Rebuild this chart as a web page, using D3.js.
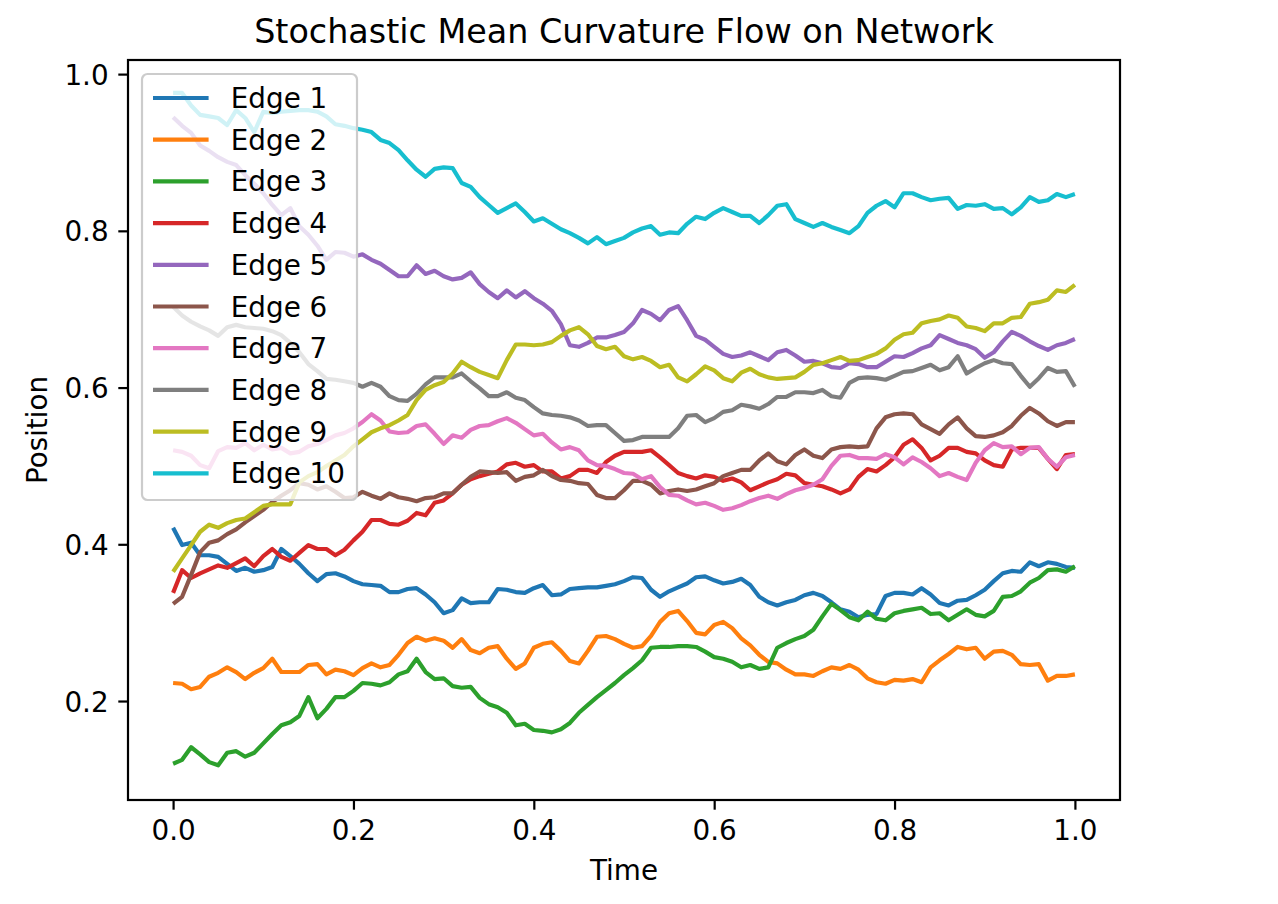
<!DOCTYPE html>
<html>
<head>
<meta charset="utf-8">
<script src="https://cdn.jsdelivr.net/npm/d3@7"></script>
<style>
  html, body { margin: 0; padding: 0; background: #ffffff; }
  svg { display: block; font-family: "DejaVu Sans", sans-serif; }
</style>
</head>
<body>
<svg id="chart" width="1278" height="904"></svg>
<script>
// ---------------- data ----------------
const time = [0.00,0.01,0.02,0.03,0.04,0.05,0.06,0.07,0.08,0.09,
  0.10,0.11,0.12,0.13,0.14,0.15,0.16,0.17,0.18,0.19,
  0.20,0.21,0.22,0.23,0.24,0.25,0.26,0.27,0.28,0.29,
  0.30,0.31,0.32,0.33,0.34,0.35,0.36,0.37,0.38,0.39,
  0.40,0.41,0.42,0.43,0.44,0.45,0.46,0.47,0.48,0.49,
  0.50,0.51,0.52,0.53,0.54,0.55,0.56,0.57,0.58,0.59,
  0.60,0.61,0.62,0.63,0.64,0.65,0.66,0.67,0.68,0.69,
  0.70,0.71,0.72,0.73,0.74,0.75,0.76,0.77,0.78,0.79,
  0.80,0.81,0.82,0.83,0.84,0.85,0.86,0.87,0.88,0.89,
  0.90,0.91,0.92,0.93,0.94,0.95,0.96,0.97,0.98,0.99,1.00];

const edge1 = [.421,.399,.402,.386,.386,.384,.375,.366,.370,.365,
  .367,.371,.394,.385,.375,.363,.353,.362,.363,.359,
  .353,.349,.348,.347,.339,.339,.343,.344,.336,.326,
  .312,.316,.331,.325,.326,.326,.343,.342,.339,.338,
  .344,.348,.335,.336,.343,.344,.345,.345,.347,.349,
  .353,.358,.357,.342,.333,.340,.345,.350,.358,.359,
  .354,.350,.352,.356,.348,.333,.326,.322,.326,.329,
  .335,.338,.334,.326,.317,.314,.307,.310,.311,.334,
  .338,.338,.336,.344,.336,.325,.322,.328,.329,.335,
  .342,.353,.363,.366,.365,.377,.372,.377,.375,.371,.370];
const edge2 = [.223,.222,.215,.218,.231,.236,.243,.237,.228,.236,
  .242,.254,.237,.237,.237,.246,.247,.234,.240,.238,
  .233,.242,.248,.243,.246,.259,.274,.282,.277,.280,
  .277,.268,.279,.265,.261,.268,.270,.254,.241,.248,
  .268,.273,.275,.264,.251,.248,.264,.282,.283,.279,
  .273,.268,.270,.283,.301,.312,.315,.302,.287,.285,
  .297,.301,.293,.280,.271,.259,.250,.248,.240,.234,
  .234,.232,.238,.243,.241,.246,.240,.229,.224,.222,
  .227,.226,.228,.224,.243,.252,.260,.269,.266,.268,
  .254,.263,.264,.259,.247,.246,.247,.226,.232,.232,.234];
const edge3 = [.120,.125,.141,.132,.122,.118,.134,.136,.129,.134,
  .146,.158,.169,.173,.181,.205,.178,.190,.205,.205,
  .213,.223,.222,.220,.224,.234,.238,.254,.237,.228,
  .229,.219,.217,.218,.204,.196,.192,.185,.169,.171,
  .163,.162,.160,.164,.172,.185,.195,.205,.214,.223,
  .233,.242,.252,.268,.269,.269,.270,.270,.269,.263,
  .256,.254,.250,.243,.246,.241,.243,.268,.274,.279,
  .283,.291,.308,.324,.316,.307,.303,.314,.305,.303,
  .312,.315,.317,.319,.311,.312,.303,.310,.317,.310,
  .308,.315,.333,.334,.340,.351,.357,.367,.368,.365,.372];
const edge4 = [.338,.367,.357,.363,.368,.373,.370,.376,.382,.372,
  .385,.394,.384,.379,.389,.399,.394,.394,.386,.393,
  .405,.416,.431,.431,.426,.425,.430,.440,.437,.453,
  .456,.465,.476,.483,.487,.490,.493,.502,.504,.499,
  .501,.493,.493,.484,.487,.495,.495,.491,.505,.513,
  .518,.518,.518,.520,.511,.501,.491,.487,.484,.488,
  .486,.481,.484,.479,.469,.474,.479,.483,.490,.488,
  .478,.476,.474,.470,.465,.470,.486,.496,.493,.501,
  .511,.527,.534,.523,.507,.513,.523,.523,.518,.516,
  .507,.501,.499,.521,.523,.523,.523,.509,.496,.514,.515];
const edge5 = [.945,.934,.925,.909,.902,.894,.888,.884,.871,.860,
  .848,.833,.820,.829,.806,.795,.781,.763,.773,.772,
  .767,.770,.763,.758,.750,.742,.742,.756,.745,.749,
  .742,.738,.740,.747,.732,.722,.714,.724,.715,.723,
  .714,.707,.698,.681,.654,.652,.657,.664,.664,.667,
  .671,.682,.699,.694,.686,.699,.704,.686,.666,.661,
  .652,.643,.639,.641,.645,.640,.635,.645,.648,.641,
  .633,.634,.631,.626,.625,.631,.630,.626,.626,.633,
  .640,.639,.644,.650,.654,.667,.662,.657,.654,.649,
  .638,.645,.659,.671,.666,.659,.653,.648,.654,.657,.662];
const edge6 = [.324,.333,.361,.390,.402,.405,.413,.419,.428,.436,
  .444,.454,.462,.469,.478,.476,.470,.474,.467,.459,
  .460,.467,.462,.458,.465,.460,.458,.455,.459,.460,
  .465,.465,.476,.486,.493,.492,.491,.492,.481,.486,
  .488,.495,.487,.482,.481,.478,.477,.463,.459,.459,
  .469,.481,.481,.476,.465,.468,.470,.468,.470,.474,
  .478,.487,.491,.495,.495,.507,.516,.506,.502,.514,
  .521,.513,.510,.521,.524,.525,.524,.525,.548,.562,
  .566,.567,.566,.553,.547,.541,.553,.562,.548,.538,
  .537,.539,.543,.551,.564,.574,.567,.557,.551,.556,.556];
const edge7 = [.520,.518,.513,.501,.497,.519,.524,.523,.529,.520,
  .527,.521,.523,.516,.518,.525,.528,.533,.539,.542,
  .548,.556,.566,.558,.544,.542,.543,.551,.553,.541,
  .528,.539,.536,.546,.551,.552,.557,.561,.555,.547,
  .539,.541,.530,.521,.524,.520,.507,.501,.500,.496,
  .491,.490,.483,.487,.473,.463,.462,.456,.451,.453,
  .449,.444,.446,.450,.455,.459,.462,.458,.464,.469,
  .472,.476,.483,.500,.513,.514,.510,.510,.509,.515,
  .511,.502,.511,.505,.497,.487,.491,.486,.482,.504,
  .520,.529,.524,.525,.515,.523,.524,.509,.499,.511,.514];
const edge8 = [.703,.692,.684,.678,.673,.666,.677,.680,.677,.676,
  .675,.672,.667,.657,.645,.630,.621,.611,.610,.608,
  .606,.601,.606,.601,.589,.584,.583,.592,.604,.613,
  .613,.613,.618,.608,.599,.589,.589,.594,.587,.584,
  .575,.567,.565,.564,.562,.558,.551,.552,.552,.542,
  .532,.533,.537,.537,.537,.537,.548,.564,.565,.556,
  .561,.569,.571,.578,.576,.573,.579,.588,.588,.594,
  .594,.593,.597,.589,.587,.606,.612,.613,.612,.610,
  .615,.620,.621,.625,.629,.622,.626,.640,.618,.625,
  .631,.635,.631,.630,.615,.601,.612,.625,.620,.621,.601];
const edge9 = [.365,.382,.399,.416,.425,.421,.427,.431,.433,.441,
  .449,.451,.451,.451,.479,.487,.492,.500,.507,.514,
  .525,.534,.543,.548,.552,.558,.565,.584,.597,.603,
  .607,.618,.633,.626,.620,.616,.612,.635,.655,.655,
  .654,.655,.658,.666,.673,.677,.668,.653,.649,.652,
  .640,.636,.639,.634,.626,.629,.613,.608,.617,.627,
  .622,.612,.608,.619,.624,.617,.613,.611,.612,.613,
  .620,.629,.631,.635,.639,.634,.635,.639,.643,.650,
  .661,.668,.670,.682,.685,.687,.692,.689,.678,.676,
  .672,.682,.682,.689,.690,.707,.709,.712,.724,.722,.731];
const edge10 = [.976,.976,.960,.948,.946,.944,.935,.954,.944,.926,
  .952,.950,.952,.953,.954,.954,.952,.946,.936,.934,
  .931,.929,.926,.916,.912,.903,.890,.878,.869,.879,
  .881,.880,.861,.856,.843,.833,.823,.829,.835,.824,
  .812,.816,.809,.802,.797,.791,.784,.792,.783,.787,
  .791,.798,.803,.806,.795,.798,.797,.809,.818,.815,
  .823,.829,.824,.819,.819,.810,.820,.832,.834,.815,
  .810,.805,.810,.805,.801,.797,.806,.823,.832,.838,
  .830,.848,.848,.843,.839,.841,.842,.828,.833,.832,
  .834,.828,.829,.821,.830,.843,.837,.839,.847,.843,.847];

const seriesNames = ["Edge 1","Edge 2","Edge 3","Edge 4","Edge 5","Edge 6","Edge 7","Edge 8","Edge 9","Edge 10"];
const seriesValues = [edge1, edge2, edge3, edge4, edge5, edge6, edge7, edge8, edge9, edge10];
const colors = ["#1f77b4","#ff7f0e","#2ca02c","#d62728","#9467bd","#8c564b","#e377c2","#7f7f7f","#bcbd22","#17becf"];
const xTicks = [0.0, 0.2, 0.4, 0.6, 0.8, 1.0];
const yTicks = [0.2, 0.4, 0.6, 0.8, 1.0];
const titleText = "Stochastic Mean Curvature Flow on Network";
const xLabel = "Time";
const yLabel = "Position";

// ---------------- layout ----------------
const FS = 27.8;           // 10pt at 200 dpi
const plot = { left: 128, right: 1120, top: 60, bottom: 800 };
const svg = d3.select("#chart");

const x = d3.scaleLinear().domain([-0.05, 1.05]).range([plot.left, plot.right]);
const y = d3.scaleLinear().domain([0.0737, 1.018]).range([plot.bottom, plot.top]);

svg.append("defs").append("clipPath").attr("id", "clip")
  .append("rect")
  .attr("x", plot.left).attr("y", plot.top)
  .attr("width", plot.right - plot.left).attr("height", plot.bottom - plot.top);

// lines
const line = d3.line().x((d, i) => x(time[i])).y(d => y(d));
const linesG = svg.append("g").attr("clip-path", "url(#clip)");
seriesValues.forEach((vals, i) => {
  linesG.append("path")
    .datum(vals)
    .attr("d", line)
    .attr("fill", "none")
    .attr("stroke", colors[i])
    .attr("stroke-width", 4.17)
    .attr("stroke-linejoin", "round")
    .attr("stroke-linecap", "butt");
});

// axes
const tickLen = 9.7, tickPad = 9.7;
const xAxis = d3.axisBottom(x).tickValues(xTicks).tickFormat(d3.format(".1f"))
  .tickSizeInner(tickLen).tickSizeOuter(0).tickPadding(tickPad);
const yAxis = d3.axisLeft(y).tickValues(yTicks).tickFormat(d3.format(".1f"))
  .tickSizeInner(tickLen).tickSizeOuter(0).tickPadding(tickPad);

const gx = svg.append("g").attr("transform", `translate(0,${plot.bottom})`).call(xAxis);
const gy = svg.append("g").attr("transform", `translate(${plot.left},0)`).call(yAxis);
[gx, gy].forEach(g => {
  g.select(".domain").remove();
  g.selectAll(".tick line").attr("stroke", "#000").attr("stroke-width", 2.2);
  g.selectAll(".tick text")
    .attr("fill", "#000")
    .attr("font-size", FS)
    .attr("font-family", "DejaVu Sans, sans-serif");
});
gx.selectAll(".tick text").attr("dy", null).attr("y", tickLen + tickPad).attr("dominant-baseline", "hanging");
gy.selectAll(".tick text").attr("dy", "0.36em");

// spines
svg.append("rect")
  .attr("x", plot.left).attr("y", plot.top)
  .attr("width", plot.right - plot.left).attr("height", plot.bottom - plot.top)
  .attr("fill", "none").attr("stroke", "#000").attr("stroke-width", 2.2);

// title & labels
svg.append("text")
  .attr("x", (plot.left + plot.right) / 2).attr("y", 43)
  .attr("text-anchor", "middle").attr("font-size", FS * 1.2).attr("fill", "#000")
  .text(titleText);
svg.append("text")
  .attr("x", (plot.left + plot.right) / 2).attr("y", 880)
  .attr("text-anchor", "middle").attr("font-size", FS).attr("fill", "#000")
  .text(xLabel);
svg.append("text")
  .attr("transform", `translate(47,${(plot.top + plot.bottom) / 2}) rotate(-90)`)
  .attr("text-anchor", "middle").attr("font-size", FS).attr("fill", "#000")
  .text(yLabel);

// legend
const leg = { x: 142, y: 74, w: 215, h: 426, rowH: 41.7, first: 98 };
const lg = svg.append("g");
lg.append("rect")
  .attr("x", leg.x).attr("y", leg.y).attr("width", leg.w).attr("height", leg.h)
  .attr("rx", 5.6).attr("ry", 5.6)
  .attr("fill", "#ffffff").attr("fill-opacity", 0.8)
  .attr("stroke", "#cccccc").attr("stroke-width", 2.2);
seriesNames.forEach((name, i) => {
  const cy = leg.first + i * leg.rowH;
  lg.append("line")
    .attr("x1", leg.x + 11).attr("x2", leg.x + 11 + 55.6)
    .attr("y1", cy).attr("y2", cy)
    .attr("stroke", colors[i]).attr("stroke-width", 4.17);
  lg.append("text")
    .attr("x", leg.x + 11 + 55.6 + 22.2).attr("y", cy)
    .attr("dy", "0.36em")
    .attr("font-size", FS).attr("fill", "#000")
    .text(name);
});
</script>
</body>
</html>
